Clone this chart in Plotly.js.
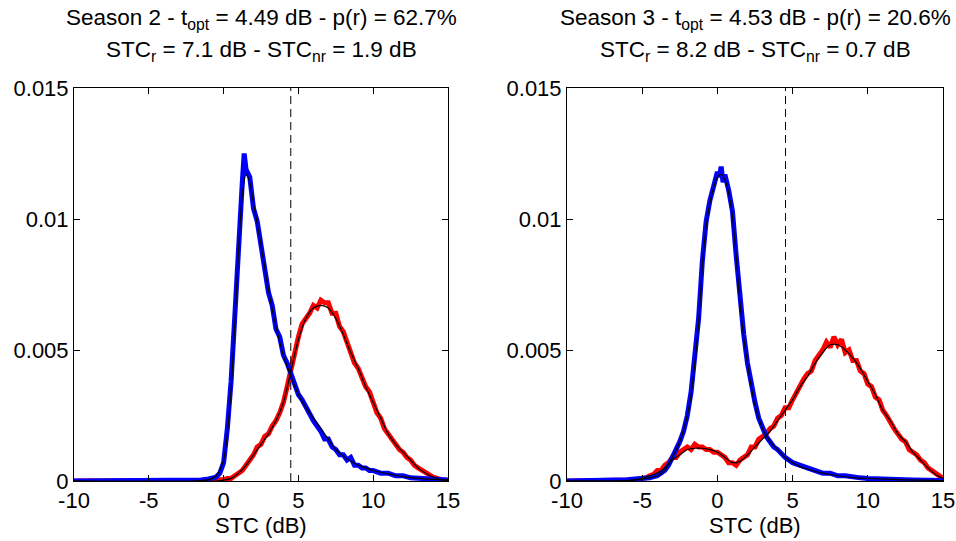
<!DOCTYPE html>
<html>
<head>
<meta charset="utf-8">
<script src="https://cdn.plot.ly/plotly-3.0.1.min.js"></script>
<style>html,body{margin:0;padding:0;background:#fff;}#chart{width:956px;height:541px;}</style>
</head>
<body>
<div id="chart"></div>
<script>
// ---------- Season 2 ----------
const s2NrHistX = [-10, -5, -2, -1.5, -1, -0.75, -0.5, -0.25, 0, 0.25, 0.5, 0.75, 1, 1.25, 1.375, 1.5, 1.75, 2, 2.25, 2.5, 2.75, 3, 3.25, 3.5, 3.75, 4, 4.25, 4.5, 4.75, 5, 5.25, 5.5, 5.75, 6, 6.25, 6.5, 6.75, 7, 7.25, 7.5, 7.75, 8, 8.25, 8.5, 8.75, 9, 9.25, 9.5, 9.75, 10, 10.5, 11, 11.5, 12, 12.5, 13, 13.5, 14, 14.5, 15];
const s2NrHistY = [0, 0, 0.00002, 0.00004, 0.00008, 0.0001, 0.00015, 0.0003, 0.0007, 0.0020, 0.0038, 0.0063, 0.0092, 0.0114, 0.0125, 0.0119, 0.0116, 0.0104, 0.0099, 0.0090, 0.0083, 0.0072, 0.0067, 0.0058, 0.0055, 0.0048, 0.0045, 0.0041, 0.0036, 0.0033, 0.0031, 0.0028, 0.0026, 0.0023, 0.0021, 0.0019, 0.0016, 0.0016, 0.0013, 0.0012, 0.0010, 0.0010, 0.0008, 0.0009, 0.0006, 0.0006, 0.0005, 0.0005, 0.0004, 0.0004, 0.0003, 0.0003, 0.0002, 0.0002, 0.00012, 0.0001, 0.00008, 0.00007, 0.00005, 0.00004];
const s2RHistX = [-10, -1, -0.5, -0.25, 0, 0.25, 0.5, 0.75, 1, 1.25, 1.5, 1.75, 2, 2.25, 2.5, 2.75, 3, 3.25, 3.5, 3.75, 4, 4.25, 4.5, 4.75, 5, 5.25, 5.5, 5.75, 6, 6.25, 6.5, 6.75, 7, 7.25, 7.5, 7.75, 8, 8.25, 8.5, 8.75, 9, 9.25, 9.5, 9.75, 10, 10.25, 10.5, 10.75, 11, 11.25, 11.5, 11.75, 12, 12.25, 12.5, 12.75, 13, 13.5, 14, 14.5, 15];
const s2RHistY = [0, 0, 0.00003, 0.00005, 0.00005, 0.0001, 0.0001, 0.0002, 0.0003, 0.0004, 0.0006, 0.0008, 0.0010, 0.0013, 0.0014, 0.0017, 0.0018, 0.0021, 0.0023, 0.0026, 0.0030, 0.0036, 0.0043, 0.0049, 0.0055, 0.0060, 0.0062, 0.0064, 0.0067, 0.0066, 0.0069, 0.0068, 0.0068, 0.0064, 0.0064, 0.0059, 0.0057, 0.0053, 0.0050, 0.0045, 0.0043, 0.0039, 0.0036, 0.0034, 0.0030, 0.0026, 0.0024, 0.0020, 0.0018, 0.0016, 0.0014, 0.0012, 0.0011, 0.0009, 0.0008, 0.0006, 0.0005, 0.0003, 0.00015, 0.00006, 0.00002];
const s2NrFitX = [-10, -2, -1, -0.5, 0, 0.25, 0.5, 0.75, 1, 1.25, 1.5, 1.75, 2, 2.5, 3, 3.5, 4, 4.5, 5, 5.5, 6, 6.5, 7, 7.5, 8, 8.5, 9, 9.5, 10, 11, 12, 13, 14, 15];
const s2NrFitY = [0, 0, 0.00005, 0.0002, 0.0008, 0.0018, 0.0035, 0.006, 0.0088, 0.0109, 0.0117, 0.0114, 0.0106, 0.009, 0.0073, 0.0059, 0.0048, 0.004, 0.0033, 0.0028, 0.0024, 0.002, 0.0016, 0.0012, 0.00095, 0.00075, 0.0006, 0.0005, 0.0004, 0.00027, 0.00017, 0.0001, 0.00006, 0.00004];
const s2RFitX = [-10, -0.5, 0, 0.5, 1, 1.5, 2, 2.5, 3, 3.5, 4, 4.5, 5, 5.5, 6, 6.5, 7, 7.5, 8, 8.5, 9, 9.5, 10, 10.5, 11, 11.5, 12, 12.5, 13, 13.5, 14, 14.5, 15];
const s2RFitY = [0, 0, 0.00003, 0.0001, 0.0003, 0.0006, 0.001, 0.0014, 0.0018, 0.0023, 0.003, 0.0042, 0.0054, 0.0062, 0.0066, 0.0067, 0.0066, 0.0062, 0.0056, 0.0049, 0.0043, 0.0036, 0.003, 0.0024, 0.0018, 0.0014, 0.0011, 0.0008, 0.0005, 0.0003, 0.00015, 0.00005, 0.00001];

// ---------- Season 3 ----------
const s3NrHistX = [-10, -7, -6, -5.5, -5, -4.5, -4, -3.75, -3.5, -3.25, -3, -2.75, -2.5, -2.25, -2, -1.75, -1.5, -1.25, -1, -0.75, -0.5, -0.25, 0, 0.125, 0.25, 0.375, 0.5, 0.75, 1, 1.25, 1.5, 1.75, 2, 2.25, 2.5, 2.75, 3, 3.25, 3.5, 3.75, 4, 4.5, 5, 5.5, 6, 6.5, 7, 7.5, 8, 8.5, 9, 9.5, 10, 11, 12, 13, 14, 15];
const s3NrHistY = [0, 0.00002, 0.00005, 0.00008, 0.0001, 0.00012, 0.0002, 0.0003, 0.0004, 0.0006, 0.0009, 0.0011, 0.0015, 0.0019, 0.0025, 0.0034, 0.0046, 0.0062, 0.0084, 0.0099, 0.0107, 0.0113, 0.0118, 0.0116, 0.0120, 0.0114, 0.0117, 0.0111, 0.0103, 0.0086, 0.0069, 0.0056, 0.0045, 0.0037, 0.0030, 0.0024, 0.0020, 0.0017, 0.0015, 0.0013, 0.0012, 0.0009, 0.0007, 0.0006, 0.0005, 0.0004, 0.0003, 0.0003, 0.0002, 0.0002, 0.00015, 0.00012, 0.0001, 0.00007, 0.00005, 0.00004, 0.00003, 0.00002];
const s3RHistX = [-10, -6.5, -6, -5.5, -5, -4.75, -4.5, -4.25, -4, -3.75, -3.5, -3.25, -3, -2.75, -2.5, -2.25, -2, -1.75, -1.5, -1.25, -1, -0.75, -0.5, -0.25, 0, 0.25, 0.5, 0.75, 1, 1.25, 1.5, 1.75, 2, 2.25, 2.5, 2.75, 3, 3.25, 3.5, 3.75, 4, 4.25, 4.5, 4.75, 5, 5.25, 5.5, 5.75, 6, 6.25, 6.5, 6.75, 7, 7.25, 7.5, 7.75, 8, 8.25, 8.5, 8.75, 9, 9.25, 9.5, 9.75, 10, 10.25, 10.5, 10.75, 11, 11.25, 11.5, 11.75, 12, 12.25, 12.5, 12.75, 13, 13.25, 13.5, 13.75, 14, 14.25, 14.5, 14.75, 15];
const s3RHistY = [0, 0, 0.00002, 0.00004, 0.0001, 0.00012, 0.0002, 0.00025, 0.0004, 0.0004, 0.0006, 0.0007, 0.0009, 0.0009, 0.0011, 0.0012, 0.0013, 0.0012, 0.0014, 0.0013, 0.0013, 0.0012, 0.0012, 0.0011, 0.0011, 0.0010, 0.0009, 0.0007, 0.0007, 0.0006, 0.0008, 0.0009, 0.0010, 0.0013, 0.0013, 0.0016, 0.0017, 0.0018, 0.0020, 0.0021, 0.0024, 0.0025, 0.0028, 0.0028, 0.0031, 0.0034, 0.0036, 0.0039, 0.0041, 0.0042, 0.0046, 0.0048, 0.0050, 0.0053, 0.0051, 0.0055, 0.0052, 0.0054, 0.0049, 0.0050, 0.0046, 0.0046, 0.0042, 0.0041, 0.0037, 0.0036, 0.0032, 0.0031, 0.0027, 0.0025, 0.0022, 0.0020, 0.0018, 0.0016, 0.0015, 0.0012, 0.0011, 0.0010, 0.0008, 0.0007, 0.0005, 0.0004, 0.0003, 0.00015, 0.0001];
const s3NrFitX = [-10, -6, -5, -4.5, -4, -3.5, -3, -2.5, -2, -1.75, -1.5, -1.25, -1, -0.75, -0.5, -0.25, 0, 0.25, 0.5, 0.75, 1, 1.25, 1.5, 1.75, 2, 2.25, 2.5, 3, 3.5, 4, 4.5, 5, 5.5, 6, 7, 8, 9, 10, 12, 15];
const s3NrFitY = [0, 0.00002, 0.00008, 0.00012, 0.0002, 0.0004, 0.0009, 0.0015, 0.0025, 0.0033, 0.0045, 0.006, 0.0082, 0.0097, 0.0106, 0.0112, 0.0116, 0.0117, 0.0115, 0.011, 0.0101, 0.0086, 0.0068, 0.0055, 0.0045, 0.0036, 0.0029, 0.002, 0.0015, 0.0012, 0.0009, 0.0007, 0.00055, 0.00045, 0.0003, 0.0002, 0.00013, 0.0001, 0.00005, 0.00002];
const s3RFitX = [-10, -6, -5.5, -5, -4.5, -4, -3.5, -3, -2.5, -2, -1.5, -1, -0.5, 0, 0.5, 1, 1.5, 2, 2.5, 3, 3.5, 4, 4.5, 5, 5.5, 6, 6.5, 7, 7.5, 8, 8.5, 9, 9.5, 10, 10.5, 11, 11.5, 12, 12.5, 13, 13.5, 14, 14.5, 15];
const s3RFitY = [0, 0, 0.00003, 0.0001, 0.0002, 0.0003, 0.0005, 0.0008, 0.001, 0.0012, 0.00125, 0.00125, 0.0012, 0.0011, 0.0009, 0.0007, 0.00075, 0.001, 0.0013, 0.0016, 0.0019, 0.0023, 0.0027, 0.0031, 0.0036, 0.004, 0.0045, 0.0049, 0.0052, 0.0052, 0.005, 0.0047, 0.0043, 0.0038, 0.0033, 0.0027, 0.0023, 0.0018, 0.0015, 0.0011, 0.0008, 0.0005, 0.00025, 0.0001];

// ---------- thresholds, titles, ticks ----------
const tOpt = [4.49, 4.53];
const titleLine1 = [
  "Season 2 - t<sub>opt</sub> = 4.49 dB - p(r) = 62.7%",
  "Season 3 - t<sub>opt</sub> = 4.53 dB - p(r) = 20.6%"
];
const titleLine2 = [
  "STC<sub>r</sub> = 7.1 dB - STC<sub>nr</sub> = 1.9 dB",
  "STC<sub>r</sub> = 8.2 dB - STC<sub>nr</sub> = 0.7 dB"
];
const xLabel = "STC (dB)";
const xTickVals = [-10, -5, 0, 5, 10, 15];
const xTickText = ["-10", "-5", "0", "5", "10", "15"];
const yTickVals = [0, 0.005, 0.01, 0.015];
const yTickText = ["0", "0.005", "0.01", "0.015"];

const FONT = "Liberation Sans, Arial, sans-serif";
const BLUE = "#0000ff", RED = "#ff0000";

function panel(xa, ya, nrX, nrY, rX, rY, nrFX, nrFY, rFX, rFY, t) {
  return [
    {x: rX, y: rY, xaxis: xa, yaxis: ya, mode: "lines", line: {color: RED, width: 5}, hoverinfo: "skip"},
    {x: nrX, y: nrY, xaxis: xa, yaxis: ya, mode: "lines", line: {color: BLUE, width: 5}, hoverinfo: "skip"},
    {x: rFX, y: rFY, xaxis: xa, yaxis: ya, mode: "lines", line: {color: "#000", width: 1.2, shape: "spline", smoothing: 0.8}, hoverinfo: "skip"},
    {x: nrFX, y: nrFY, xaxis: xa, yaxis: ya, mode: "lines", line: {color: "#000", width: 1.2, shape: "spline", smoothing: 0.8}, hoverinfo: "skip"},
    {x: [t, t], y: [yTickVals[0], yTickVals[yTickVals.length - 1]], xaxis: xa, yaxis: ya, mode: "lines", line: {color: "#000", width: 1, dash: "8px,5px"}, hoverinfo: "skip"}
  ];
}

const data = [].concat(
  panel("x", "y", s2NrHistX, s2NrHistY, s2RHistX, s2RHistY, s2NrFitX, s2NrFitY, s2RFitX, s2RFitY, tOpt[0]),
  panel("x2", "y2", s3NrHistX, s3NrHistY, s3RHistX, s3RHistY, s3NrFitX, s3NrFitY, s3RFitX, s3RFitY, tOpt[1])
);

const W = 956, H = 541;
const xDom1 = [74 / W, 448 / W], xDom2 = [567 / W, 943 / W];
const yDom = [(H - 481) / H, (H - 88) / H];

function xAxis(dom, anchor) {
  return {domain: dom, anchor: anchor, range: [-10, 15], tickvals: xTickVals, ticktext: xTickText,
    ticks: "inside", ticklen: 6, tickwidth: 1, tickcolor: "#000", showline: true, linecolor: "#000", linewidth: 1,
    mirror: "ticks", showgrid: false, zeroline: false, tickfont: {family: FONT, size: 22, color: "#000"}, fixedrange: true};
}
function yAxis(anchor) {
  return {domain: yDom, anchor: anchor, range: [0, 0.015], tickvals: yTickVals, ticktext: yTickText,
    ticks: "inside", ticklen: 6, tickwidth: 1, tickcolor: "#000", showline: true, linecolor: "#000", linewidth: 1,
    mirror: "ticks", showgrid: false, zeroline: false, tickfont: {family: FONT, size: 22, color: "#000"}, fixedrange: true};
}

const annotations = [];
[xDom1, xDom2].forEach((d, i) => {
  const cx = (d[0] + d[1]) / 2;
  annotations.push({xref: "paper", yref: "paper", x: cx, y: (H - 19) / H, xanchor: "center", yanchor: "middle",
    text: titleLine1[i], showarrow: false, font: {family: FONT, size: 22.5, color: "#000"}});
  annotations.push({xref: "paper", yref: "paper", x: cx, y: (H - 51) / H, xanchor: "center", yanchor: "middle",
    text: titleLine2[i], showarrow: false, font: {family: FONT, size: 22.5, color: "#000"}});
  annotations.push({xref: "paper", yref: "paper", x: cx, y: (H - 525) / H, xanchor: "center", yanchor: "middle",
    text: xLabel, showarrow: false, font: {family: FONT, size: 22, color: "#000"}});
});

const layout = {
  width: W, height: H, margin: {l: 0, r: 0, t: 0, b: 0},
  paper_bgcolor: "#fff", plot_bgcolor: "#fff", showlegend: false,
  xaxis: xAxis(xDom1, "y"), yaxis: yAxis("x"),
  xaxis2: xAxis(xDom2, "y2"), yaxis2: yAxis("x2"),
  annotations: annotations
};

Plotly.newPlot("chart", data, layout, {displayModeBar: false, staticPlot: true});
</script>
</body>
</html>
